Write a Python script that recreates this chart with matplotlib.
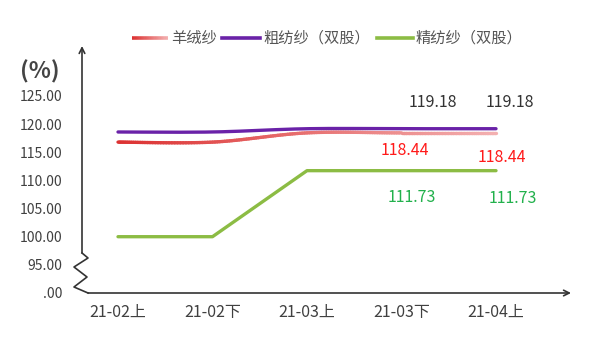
import numpy as np
import matplotlib
matplotlib.use("Agg")
import matplotlib.pyplot as plt
from matplotlib.collections import LineCollection
from matplotlib.colors import LinearSegmentedColormap
from matplotlib.lines import Line2D

plt.rcParams["font.family"] = ["Noto Sans CJK SC", "DejaVu Sans"]

# -----------------------------
# DATA
# -----------------------------
categories = ["21-02上", "21-02下", "21-03上", "21-03下", "21-04上"]
cashmere = [116.8, 116.8, 118.44, 118.44, 118.44]        # 羊绒纱
woolen = [118.6, 118.6, 119.18, 119.18, 119.18]          # 粗纺纱（双股）
worsted = [100.0, 100.0, 111.73, 111.73, 111.73]         # 精纺纱（双股）
yticks = [90, 95, 100, 105, 110, 115, 120, 125]
ytick_labels = [".00", "95.00", "100.00", "105.00", "110.00", "115.00", "120.00", "125.00"]

RED_DARK = "#dc3232"
RED_LIGHT = "#f3b0b0"
PURPLE = "#6a22a8"
GREEN = "#8cbc44"
TEXT = "#404040"
AXIS = "#333333"


def smooth(xs, ys, n=40):
    # catmull-rom spline through the points
    xs = np.asarray(xs, float)
    ys = np.asarray(ys, float)
    px = np.concatenate([[xs[0]], xs, [xs[-1]]])
    py = np.concatenate([[ys[0]], ys, [ys[-1]]])
    out_x, out_y = [], []
    for i in range(1, len(px) - 2):
        t = np.linspace(0, 1, n)
        for p, out in ((px, out_x), (py, out_y)):
            p0, p1, p2, p3 = p[i - 1], p[i], p[i + 1], p[i + 2]
            out.extend(0.5 * ((2 * p1) + (-p0 + p2) * t
                              + (2 * p0 - 5 * p1 + 4 * p2 - p3) * t ** 2
                              + (-p0 + 3 * p1 - 3 * p2 + p3) * t ** 3))
    return np.array(out_x), np.array(out_y)


fig = plt.figure(figsize=(6, 3.39), dpi=100)
ax = fig.add_axes([82 / 600, 46 / 339, 489 / 600, 247 / 339])

x = np.arange(len(categories))
cmap = LinearSegmentedColormap.from_list("redfade", [RED_DARK, RED_LIGHT])

# red gradient line (smoothed)
sx, sy = smooth(x, cashmere)
pts = np.column_stack([sx, sy]).reshape(-1, 1, 2)
segs = np.concatenate([pts[:-1], pts[1:]], axis=1)
lc = LineCollection(segs, cmap=cmap, linewidths=2.4, capstyle="round")
lc.set_array(sx[:-1] / sx.max())
ax.add_collection(lc)

# purple (smoothed)
px_, py_ = smooth(x, woolen)
ax.plot(px_, py_, color=PURPLE, lw=2.4, solid_capstyle="round")

# green straight
ax.plot(x, worsted, color=GREEN, lw=2.4, solid_capstyle="round")

# data labels for last two points
offs_black = [(31, 26), (14, 26)]
offs_red = [(3, -18), (6, -25)]
offs_green = [(10, -27), (17, -28)]
for k, i in enumerate([3, 4]):
    ax.annotate(f"{woolen[i]:.2f}", (x[i], woolen[i]), xytext=offs_black[k],
                textcoords="offset pixels", ha="center", va="center",
                color="#333333", fontsize=11.5)
    ax.annotate(f"{cashmere[i]:.2f}", (x[i], cashmere[i]), xytext=offs_red[k],
                textcoords="offset pixels", ha="center", va="center",
                color="#ff1a1a", fontsize=11.5)
    ax.annotate(f"{worsted[i]:.2f}", (x[i], worsted[i]), xytext=offs_green[k],
                textcoords="offset pixels", ha="center", va="center",
                color="#22b14c", fontsize=11.5)

ax.set_xlim(-36 / 94.5, 4 + 75 / 94.5)
ax.set_ylim(90, 90 + 247 / 5.63)
ax.set_xticks(x)
ax.set_xticklabels(categories, fontsize=11.5)
ax.set_yticks(yticks)
ax.set_yticklabels(ytick_labels, fontsize=10)
ax.tick_params(axis="both", length=0, labelcolor=TEXT)
ax.tick_params(axis="y", pad=14)
ax.tick_params(axis="x", pad=8)
for s in ax.spines.values():
    s.set_visible(False)


# axes with broken y axis (pixel positions -> axes fraction)
def af(px, py):
    return ((px - 82) / 489, (293 - py) / 247)


zig = [af(82, 253), af(88, 258), af(74, 267), af(87, 277), af(74, 287), af(88, 293)]
ax.plot([p[0] for p in zig], [p[1] for p in zig], color=AXIS, lw=1.2,
        transform=ax.transAxes, clip_on=False)
ax.annotate("", xy=af(82, 46), xytext=af(82, 253), xycoords="axes fraction",
            arrowprops=dict(arrowstyle="->", color=AXIS, lw=1.2, shrinkA=0, shrinkB=0))
ax.annotate("", xy=af(571, 293), xytext=af(88, 293), xycoords="axes fraction",
            arrowprops=dict(arrowstyle="->", color=AXIS, lw=1.2, shrinkA=0, shrinkB=0))

fig.text(40 / 600, 1 - 72 / 339, "(%)", ha="center", va="center",
         fontsize=16.5, fontweight="bold", color="#444444")

# legend drawn by hand
ly = 1 - 38 / 339
gx = np.linspace(132, 168, 30) / 600
gpts = np.column_stack([gx, np.full_like(gx, ly)]).reshape(-1, 1, 2)
glc = LineCollection(np.concatenate([gpts[:-1], gpts[1:]], axis=1), cmap=cmap,
                     linewidths=2.6, transform=fig.transFigure)
glc.set_array(np.linspace(0, 1, len(gx) - 1))
fig.add_artist(glc)
fig.add_artist(Line2D([222 / 600, 260 / 600], [ly, ly], color=PURPLE, lw=2.6,
                      transform=fig.transFigure))
fig.add_artist(Line2D([377 / 600, 413 / 600], [ly, ly], color=GREEN, lw=2.6,
                      transform=fig.transFigure))
for tx, label in [(171, "羊绒纱"), (263, "粗纺纱（双股）"), (416, "精纺纱（双股）")]:
    fig.text(tx / 600, ly, label, ha="left", va="center", fontsize=11, color="#555555")

fig.savefig("out.png", dpi=100)
